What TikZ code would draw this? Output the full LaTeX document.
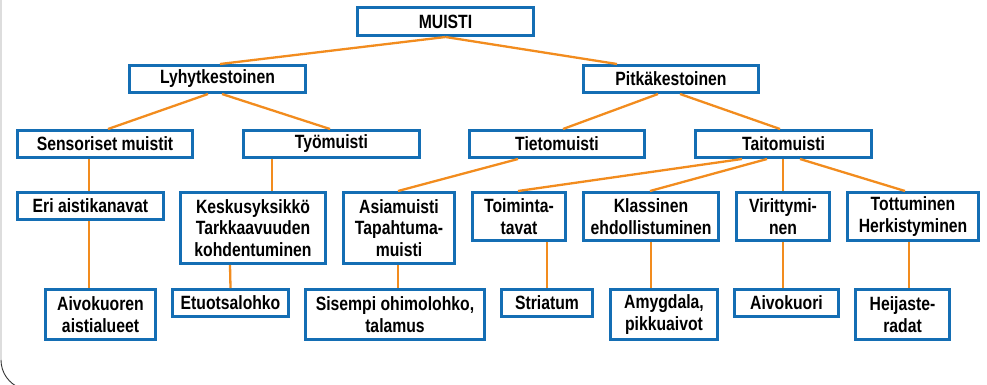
\documentclass[tikz,border=0pt]{standalone}
\usepackage{fontspec}
\setmainfont{Liberation Sans}[FakeStretch=0.82]
\definecolor{boxblue}{HTML}{146EB4}
\definecolor{linkorange}{HTML}{F28C1E}
\definecolor{framelight}{HTML}{DDDDDD}
\definecolor{framedark}{HTML}{333333}
\begin{document}
\begin{tikzpicture}[x=1pt,y=-1pt,
  box/.style={draw=boxblue,line width=2.6pt,fill=white,align=center,inner sep=0pt,
    font=\fontsize{19.2}{21.7}\selectfont\bfseries,text=black},
  conn/.style={draw=linkorange,line width=2.3pt},
  framel/.style={draw=framelight,line width=1.2pt},
  framec/.style={draw=framedark,line width=0.9pt}]
\useasboundingbox (0,0) rectangle (987,384);
\draw[framel] (1,0) -- (1,360);
\draw[framec] (1,360) arc[start angle=180,end angle=110,radius=30];
% level 1
\node[box,minimum width=176.4,minimum height=28.4] (muisti) at (445.5,21.5) {MUISTI};
% level 2
\node[box,minimum width=176.4,minimum height=27.4] (lyhyt) at (217.5,79) {Lyhytkestoinen};
\node[box,minimum width=175.4,minimum height=27.4] (pitka) at (671,79) {Pitkäkestoinen};
% level 3
\node[box,minimum width=175.4,minimum height=27.4] (senso) at (105,144) {Sensoriset muistit};
\node[box,minimum width=176.4,minimum height=27.4] (tyo) at (331.5,144) {Työmuisti};
\node[box,minimum width=175.4,minimum height=27.4] (tieto) at (557,144) {Tietomuisti};
\node[box,minimum width=176.4,minimum height=27.4] (taito) at (783.5,144) {Taitomuisti};
% level 4
\node[box,minimum width=146.4,minimum height=27.4] (eri) at (90.5,206) {Eri aistikanavat};
\node[box,minimum width=145.4,minimum height=71.4] (keskus) at (253,228) {Keskusyksikkö\\Tarkkaavuuden\\kohdentuminen};
\node[box,minimum width=111.4,minimum height=71.4] (asia) at (399,228) {Asiamuisti\\Tapahtuma-\\muisti};
\node[box,minimum width=93.4,minimum height=48.4] (toim) at (519,216.5) {Toiminta-\\tavat};
\node[box,minimum width=135.4,minimum height=48.4] (klass) at (651,216.5) {Klassinen\\ehdollistuminen};
\node[box,minimum width=93.4,minimum height=48.4] (viri) at (783,216.5) {Virittymi-\\nen};
\node[box,minimum width=131.4,minimum height=48.4] (tott) at (913,216.5) {Tottuminen\\Herkistyminen};
% level 5
\node[box,minimum width=110.4,minimum height=50.4] (aivoal) at (100.5,314.5) {Aivokuoren\\aistialueet};
\node[box,minimum width=116.4,minimum height=27.4] (etuo) at (230.5,303) {Etuotsalohko};
\node[box,minimum width=179.4,minimum height=50.4] (sise) at (395,314.5) {Sisempi ohimolohko,\\talamus};
\node[box,minimum width=91.4,minimum height=27.4] (stri) at (547,303) {Striatum};
\node[box,minimum width=107.4,minimum height=50.4] (amyg) at (664,314.5) {Amygdala,\\pikkuaivot};
\node[box,minimum width=104.4,minimum height=27.4] (aivok) at (786.5,303) {Aivokuori};
\node[box,minimum width=94.4,minimum height=50.4] (heij) at (902.5,314.5) {Heijaste-\\radat};
% connectors
\draw[conn] (muisti.south) -- ([xshift=2.5]lyhyt.north);
\draw[conn] (muisti.south) -- ([xshift=-54]pitka.north);
\draw[conn] ([xshift=-9.5]lyhyt.south) -- ([xshift=3]senso.north);
\draw[conn] ([xshift=4.5]lyhyt.south) -- ([xshift=-1.5]tyo.north);
\draw[conn] ([xshift=-13]pitka.south) -- ([xshift=6]tieto.north);
\draw[conn] ([xshift=9]pitka.south) -- ([xshift=-3.5]taito.north);
\draw[conn] ([xshift=-16]senso.south) -- ([xshift=-1.5]eri.north);
\draw[conn] ([xshift=-59.5]tyo.south) -- ([xshift=19]keskus.north);
\draw[conn] ([xshift=-39]tieto.south) -- ([xshift=-1]asia.north);
\draw[conn] ([xshift=-41.5]taito.south) -- ([xshift=-1]toim.north);
\draw[conn] ([xshift=-16.5]taito.south) -- ([xshift=-1]klass.north);
\draw[conn] ([xshift=-0.5]taito.south) -- (viri.north);
\draw[conn] ([xshift=16.5]taito.south) -- ([xshift=-8]tott.north);
\draw[conn] ([xshift=-1.5]eri.south) -- ([xshift=-11.5]aivoal.north);
\draw[conn] ([xshift=-23]keskus.south) -- (etuo.north);
\draw[conn] ([xshift=-1]asia.south) -- ([xshift=3]sise.north);
\draw[conn] ([xshift=28]toim.south) -- (stri.north);
\draw[conn] (klass.south) -- ([xshift=-13]amyg.north);
\draw[conn] (viri.south) -- ([xshift=-3.5]aivok.north);
\draw[conn] ([xshift=-4]tott.south) -- ([xshift=6.5]heij.north);
\end{tikzpicture}
\end{document}
